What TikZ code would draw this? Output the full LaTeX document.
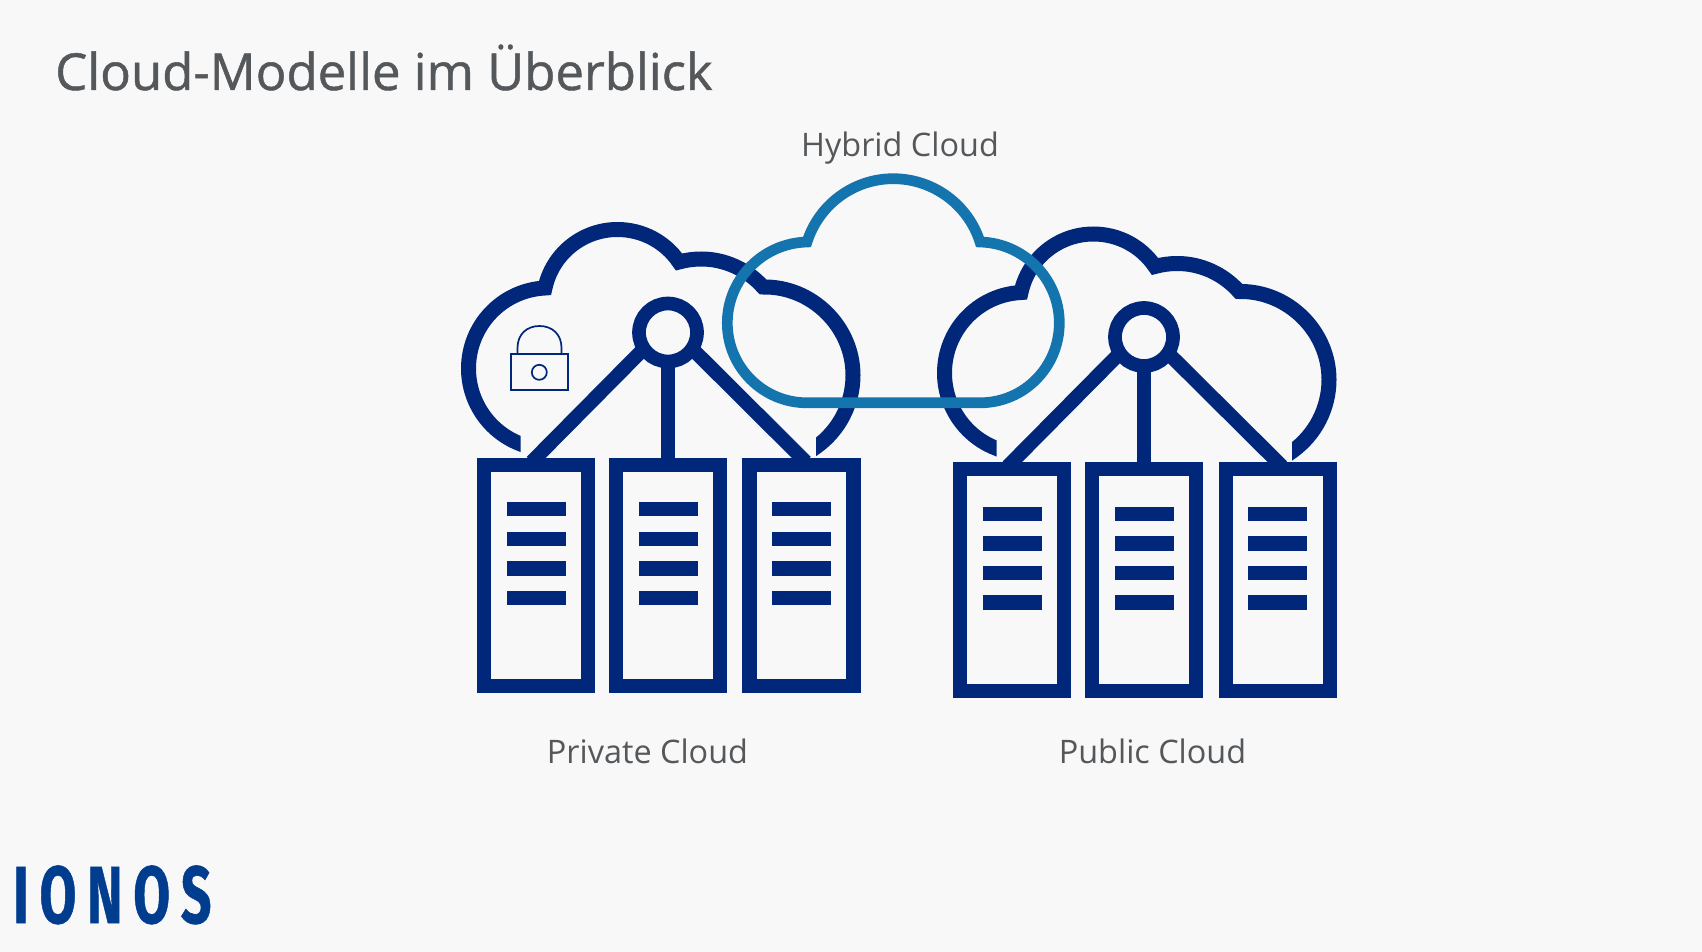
\documentclass[tikz,border=0pt]{standalone}
\usepackage{fontspec}
\setmainfont{Open Sans}
\newfontfamily\titlefont[FakeBold=0.9]{Open Sans}
\newfontfamily\logofont[LetterSpace=20,FakeBold=0.8]{Fira Sans}

\definecolor{pagebg}{HTML}{F8F8F9}
\definecolor{navyline}{HTML}{00277A}
\definecolor{hybridblue}{HTML}{1474AE}
\definecolor{textgray}{HTML}{54585A}
\definecolor{logoblue}{HTML}{003D8F}

\tikzset{
  serverbox/.style={draw=navyline, line width=14.3pt, rectangle, minimum width=104pt, minimum height=221.5pt, inner sep=0pt},
  serverbar/.style={fill=navyline, rectangle, minimum width=59pt, minimum height=14.3pt, inner sep=0pt},
  hubring/.style={draw=navyline, line width=13.7pt, circle, minimum size=58pt, inner sep=0pt},
  linkline/.style={draw=navyline, line width=14.2pt, shorten >=-6pt, shorten <=-6pt},
  cloudline/.style={draw=navyline, line width=15pt},
  hybridline/.style={draw=hybridblue, line width=10.7pt},
  lockline/.style={draw=navyline, line width=1.7pt, inner sep=0pt},
  cloudlabel/.style={text=textgray, font=\fontsize{32.4}{38}\selectfont, anchor=base}
}

\newcommand{\cloudoutline}{(528,447) -- (520.7,444) .. controls (489.3,432.2) and (468.5,402) .. (468.5,368.5)
  .. controls (468.5,325.6) and (502.1,290.1) .. (545,288)
  .. controls (552.3,253.8) and (582.5,229.5) .. (617.5,229.5)
  .. controls (642.1,229.5) and (665.2,241.6) .. (679,262)
  .. controls (686.2,260) and (693.8,259) .. (701.3,259)
  .. controls (724.9,259) and (747.4,269.4) .. (763,287)
  .. controls (811.7,286) and (853,326.5) .. (853,375.2)
  .. controls (853,403.7) and (839.2,430.5) .. (816,447) -- (806,454)}
\newcommand{\cloudcut}{(440,200) -- (880,200) -- (880,470) -- (816,470) -- (816,420) -- (520.7,420) -- (520.7,470) -- (440,470) -- cycle}

\begin{document}
\begin{tikzpicture}[x=1pt, y=-1pt]

        % Page
        \useasboundingbox (0,0) rectangle (1702,952);
        \fill[pagebg] (0,0) rectangle (1702,952);

        % Title
        \node[text=textgray, font=\titlefont\fontsize{50.9}{60}\selectfont, anchor=base west, inner sep=0pt] (title) at (55,90) {Cloud-Modelle im Überblick};

        % Private cloud outline
        \begin{scope}
            \clip \cloudcut;
            \draw[cloudline] \cloudoutline;
        \end{scope}

        % Public cloud outline
        \begin{scope}[shift={(476,4.5)}]
            \clip \cloudcut;
            \draw[cloudline] \cloudoutline;
        \end{scope}

        % Private servers
        \node[serverbox] (privA) at (536,575.5) {};
        \node[serverbox] (privB) at (668,575.5) {};
        \node[serverbox] (privC) at (801.5,575.5) {};
        \node[serverbar] (privAa) at (536,509.2) {};
        \node[serverbar] (privAb) at (536,538.8) {};
        \node[serverbar] (privAc) at (536,568.5) {};
        \node[serverbar] (privAd) at (536,598) {};
        \node[serverbar] (privBa) at (668,509.2) {};
        \node[serverbar] (privBb) at (668,538.8) {};
        \node[serverbar] (privBc) at (668,568.5) {};
        \node[serverbar] (privBd) at (668,598) {};
        \node[serverbar] (privCa) at (801.5,509.2) {};
        \node[serverbar] (privCb) at (801.5,538.8) {};
        \node[serverbar] (privCc) at (801.5,568.5) {};
        \node[serverbar] (privCd) at (801.5,598) {};

        % Private hub
        \node[hubring] (privhub) at (668,332.5) {};
        \draw[linkline] (privhub.216) -- (privA.north);
        \draw[linkline] (privhub.south) -- (privB.north);
        \draw[linkline] (privhub.324) -- (privC.north);

        % Public servers
        \node[serverbox] (pubA) at (1012,580) {};
        \node[serverbox] (pubB) at (1144,580) {};
        \node[serverbox] (pubC) at (1277.7,580) {};
        \node[serverbar] (pubAa) at (1012,514) {};
        \node[serverbar] (pubAb) at (1012,543.5) {};
        \node[serverbar] (pubAc) at (1012,573) {};
        \node[serverbar] (pubAd) at (1012,602.5) {};
        \node[serverbar] (pubBa) at (1144,514) {};
        \node[serverbar] (pubBb) at (1144,543.5) {};
        \node[serverbar] (pubBc) at (1144,573) {};
        \node[serverbar] (pubBd) at (1144,602.5) {};
        \node[serverbar] (pubCa) at (1277.7,514) {};
        \node[serverbar] (pubCb) at (1277.7,543.5) {};
        \node[serverbar] (pubCc) at (1277.7,573) {};
        \node[serverbar] (pubCd) at (1277.7,602.5) {};

        % Public hub
        \node[hubring] (pubhub) at (1144,337) {};
        \draw[linkline] (pubhub.216) -- (pubA.north);
        \draw[linkline] (pubhub.south) -- (pubB.north);
        \draw[linkline] (pubhub.324) -- (pubC.north);

        % Lock
        \node[lockline, rectangle, minimum width=57.3pt, minimum height=36pt] (lockbody) at (539.3,372) {};
        \node[lockline, circle, minimum size=15pt] (lockhole) at (539.3,372.3) {};
        \draw[lockline] (517.5,354) -- (517.5,348) .. controls (517.5,334) and (527,326) .. (539.5,326) .. controls (552,326) and (561.5,334) .. (561.5,348) -- (561.5,354);

        % Hybrid cloud
        \draw[hybridline] (807,402.8) .. controls (763,402.8) and (727.3,367) .. (727.3,323)
          .. controls (727.3,279) and (763,243) .. (807,242)
          .. controls (818.9,204.4) and (853.8,178.7) .. (893.3,178.7)
          .. controls (932.8,178.7) and (968.1,204.4) .. (980,242)
          .. controls (1024,243) and (1059.3,279) .. (1059.3,323)
          .. controls (1059.3,367) and (1024,402.8) .. (980,402.8) -- cycle;

        % Labels
        \node[cloudlabel] (hybridlabel) at (900,156.5) {Hybrid Cloud};
        \node[cloudlabel] (privlabel) at (647.5,763) {Private Cloud};
        \node[cloudlabel] (publabel) at (1152.5,763) {Public Cloud};

        % Logo
        \node[text=logoblue, font=\logofont\bfseries\fontsize{81}{81}\selectfont, anchor=base west, inner sep=0pt, xscale=0.66] (logo) at (13,923) {IONOS};

\end{tikzpicture}
\end{document}
